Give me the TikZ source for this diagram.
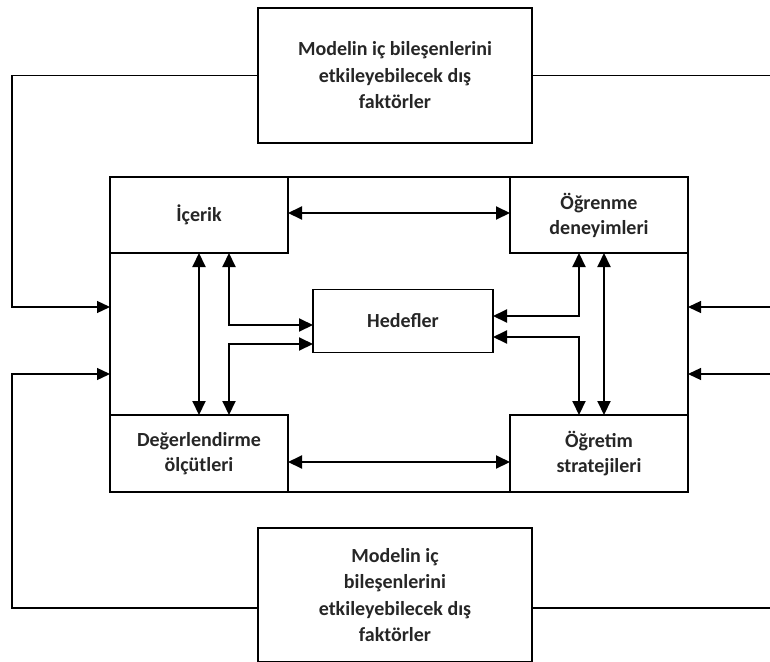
\documentclass[tikz,border=0pt]{standalone}
\usepackage{fontspec}
\setmainfont{Carlito}
\usetikzlibrary{arrows.meta}

\begin{document}
\begin{tikzpicture}[x=1pt,y=-1pt,
    box/.style={draw, line width=1.3pt, inner sep=0pt, outer sep=0pt, align=center, text=black!85, font=\bfseries\fontsize{20}{25}\selectfont},
    link/.style={line width=2pt, {Triangle[length=14pt,width=13pt]}-{Triangle[length=14pt,width=13pt]}},
    feed/.style={line width=1.3pt, -{Triangle[length=13pt,width=12pt]}}]
          \useasboundingbox (0,0) rectangle (770,661);

          \node [box, minimum width=274pt, minimum height=135pt, font=\bfseries\fontsize{20}{26.5}\selectfont] (exttop) at (395,75.5) {Modelin iç bileşenlerini\\etkileyebilecek dış\\faktörler}; % outer factors (top)
          \node [box, minimum width=274pt, minimum height=134pt, font=\bfseries\fontsize{20}{26.5}\selectfont] (extbot) at (395,595) {Modelin iç\\bileşenlerini\\etkileyebilecek dış\\faktörler}; % outer factors (bottom)

          \node [box, minimum width=578pt, minimum height=315pt] (frame) at (399,334.5) {}; % the model

          \node [box, minimum width=178pt, minimum height=76pt] (icerik) at (199,215) {İçerik};
          \node [box, minimum width=178pt, minimum height=76pt] (ogrenme) at (599,215) {Öğrenme\\deneyimleri};
          \node [box, minimum width=178pt, minimum height=77pt] (degerl) at (199,453.5) {Değerlendirme\\ölçütleri};
          \node [box, minimum width=178pt, minimum height=77pt] (ogretim) at (599,453.5) {Öğretim\\stratejileri};
          \node [box, minimum width=180pt, minimum height=63pt] (hedef) at (403,321) {Hedefler};

          \draw [link] ([yshift=2pt]icerik.east) to ([yshift=2pt]ogrenme.west);
          \draw [link] ([yshift=-8.5pt]degerl.east) to ([yshift=-8.5pt]ogretim.west);

          \draw [link] (icerik.south) to (degerl.north);
          \draw [link] ([xshift=30pt]icerik.south) |- ([yshift=-4pt]hedef.west);
          \draw [link] ([xshift=30pt]degerl.north) |- ([yshift=-23pt]hedef.west);

          \draw [link] ([xshift=5pt]ogrenme.south) to ([xshift=5pt]ogretim.north);
          \draw [link] ([xshift=-20pt]ogrenme.south) |- ([yshift=5pt]hedef.east);
          \draw [link] ([xshift=-20pt]ogretim.north) |- ([yshift=-16pt]hedef.east);

          \coordinate (inL1) at ([yshift=27.5pt]frame.west);
          \coordinate (inL2) at ([yshift=-39.5pt]frame.west);
          \coordinate (inR1) at ([yshift=27.5pt]frame.east);
          \coordinate (inR2) at ([yshift=-39.5pt]frame.east);
          \coordinate (edgeR1) at ([xshift=82pt]inR1);
          \coordinate (edgeR2) at ([xshift=82pt]inR2);

          \draw [feed] (exttop.west) -| ([xshift=-98pt]inL1) to (inL1);
          \draw [feed] ([yshift=-13pt]extbot.west) -| ([xshift=-98pt]inL2) to (inL2);
          \draw [line width=1.3pt] (exttop.east) to ++(238,0);
          \draw [line width=1.3pt] ([yshift=-13pt]extbot.east) to ++(238,0);
          \draw [feed] (edgeR1) to (inR1);
          \draw [feed] (edgeR2) to (inR2);
        \end{tikzpicture}
\end{document}
